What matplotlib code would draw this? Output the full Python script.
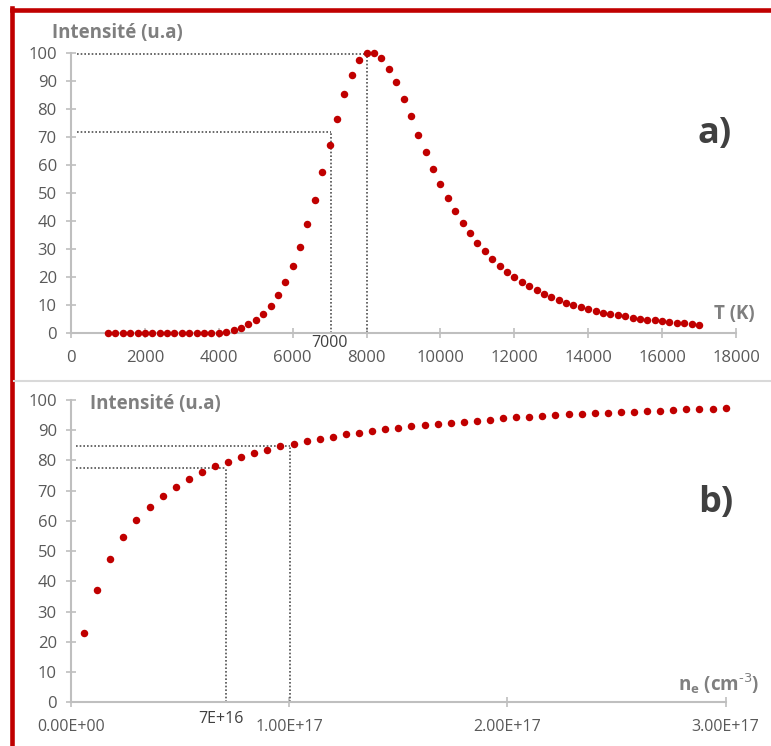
import numpy as np
import matplotlib.pyplot as plt
from matplotlib.lines import Line2D
from matplotlib.ticker import FuncFormatter
import matplotlib.transforms as mtransforms

plt.rcParams['font.family'] = ['Open Sans', 'DejaVu Sans']

# a) intensity vs temperature
temp = np.arange(1000, 17001, 200)
inten_T = [0, 0, 0, 0, 0, 0, 0, 0, 0, 0, 0, 0, 0, 0, 0,
           0.2, 0.5, 1.1, 1.8, 3.2, 4.8, 6.9, 9.9, 13.7, 18.4, 24.1,
           30.9, 39.0, 47.6, 57.4, 67.0, 76.5, 85.2, 92.2, 97.3, 99.8, 100.0,
           98.1, 94.3, 89.4, 83.5, 77.3, 70.8, 64.5, 58.7, 53.2, 48.1,
           43.5, 39.4, 35.6, 32.2, 29.2, 26.6, 24.1, 21.8, 20.0, 18.3,
           16.9, 15.4, 14.0, 12.9, 11.9, 10.8, 10.0, 9.3, 8.6, 7.8,
           7.2, 6.8, 6.5, 6.1, 5.5, 5.1, 4.9, 4.6, 4.4, 4.1,
           3.8, 3.6, 3.3, 3.1]

# b) intensity vs electron density
ne = 6e15 * np.arange(1, 51)
inten_ne = [22.9, 37.3, 47.3, 54.6, 60.2, 64.7, 68.2, 71.3, 73.8, 76.1,
            78.1, 79.6, 81.0, 82.4, 83.6, 84.7, 85.6, 86.4, 87.1, 87.9,
            88.6, 89.2, 89.9, 90.4, 90.9, 91.3, 91.6, 92.1, 92.4, 92.8,
            93.2, 93.5, 93.9, 94.3, 94.5, 94.7, 94.9, 95.3, 95.5, 95.7,
            95.8, 95.9, 96.1, 96.4, 96.5, 96.6, 96.9, 97.0, 97.1, 97.3]

# guide lines (x, y)
guides_T = [(8020, 99.5), (7050, 71.9)]
guides_ne = [(1.005e17, 84.7), (7.12e16, 77.4)]

red = '#C00000'
tick_col = '#595959'
label_col = '#7F7F7F'
spine_col = '#BFBFBF'
guide_col = '#505050'

fig = plt.figure(figsize=(7.71, 7.46), dpi=100)
ax1 = fig.add_axes([0.0921, 0.5532, 0.8625, 0.3761])
ax2 = fig.add_axes([0.0921, 0.0586, 0.8491, 0.4052])


def style(ax):
    for s in ['top', 'right']:
        ax.spines[s].set_visible(False)
    for s in ['left', 'bottom']:
        ax.spines[s].set_color(spine_col)
        ax.spines[s].set_linewidth(1.5)
    ax.tick_params(direction='inout', length=7.5, width=1.2, color=spine_col,
                   labelcolor=tick_col, labelsize=12)
    ax.tick_params(axis='y', pad=6.5)
    ax.tick_params(axis='x', pad=8)
    ax.set_ylim(0, 100)
    ax.set_yticks(range(0, 101, 10))


def guide(ax, x0, gx, gy):
    ax.plot([x0, gx], [gy, gy], color=guide_col, lw=1.2, dashes=(1, 1.2), zorder=2)
    ax.plot([gx, gx], [0, gy], color=guide_col, lw=1.2, dashes=(1, 1.2), zorder=2)


style(ax1)
ax1.set_xlim(0, 18000)
ax1.set_xticks(range(0, 18001, 2000))
ax1.plot(temp, inten_T, 'o', color=red, ms=5.4, mew=0, clip_on=False, zorder=3)
for gx, gy in guides_T:
    guide(ax1, 150, gx, gy)
tr1 = mtransforms.blended_transform_factory(ax1.transData, ax1.transAxes)
ax1.text(7000, -0.036, '7000', transform=tr1, ha='center', va='center',
         fontsize=11.5, color='#404040')

style(ax2)
ax2.set_xlim(0, 3e17)
ax2.set_xticks([0, 1e17, 2e17, 3e17])
ax2.xaxis.set_major_formatter(FuncFormatter(
    lambda v, p: '{:.2E}'.format(v) if v else '0.00E+00'))
ax2.tick_params(axis='x', labelsize=11.5)
ax2.plot(ne, inten_ne, 'o', color=red, ms=5.4, mew=0, clip_on=False, zorder=3)
for gx, gy in guides_ne:
    guide(ax2, 0.025e17, gx, gy)
tr2 = mtransforms.blended_transform_factory(ax2.transData, ax2.transAxes)
ax2.text(6.86e16, -0.054, '7E+16', transform=tr2, ha='center', va='center',
         fontsize=11.5, color='#404040')

# titles and panel letters
fig.text(0.0674, 0.9558, 'Intensité (u.a)', ha='left', va='center',
         fontsize=13.5, fontweight='bold', color=label_col)
fig.text(0.1167, 0.4584, 'Intensité (u.a)', ha='left', va='center',
         fontsize=13.5, fontweight='bold', color=label_col)
fig.text(0.926, 0.5791, 'T (K)', ha='left', va='center',
         fontsize=13.5, fontweight='bold', color=label_col)
fig.text(0.879, 0.0831, r'n$_\mathregular{e}$ (cm$^{\text{-3}}$)', ha='left',
         va='center', fontsize=13.5, fontweight='bold', color=label_col)
fig.text(0.905, 0.8204, 'a)', ha='left', va='center', fontsize=26,
         fontweight='bold', color='#404040')
fig.text(0.906, 0.3257, 'b)', ha='left', va='center', fontsize=26,
         fontweight='bold', color='#404040')

# frame lines
fig.add_artist(Line2D([11.5 / 771, 11.5 / 771], [0, 1 - 8 / 746],
                      color=red, lw=3.3, solid_capstyle='projecting'))
fig.add_artist(Line2D([11.5 / 771, 1], [1 - 9.5 / 746, 1 - 9.5 / 746],
                      color=red, lw=3.3, solid_capstyle='projecting'))
fig.add_artist(Line2D([14 / 771, 1], [1 - 381 / 746, 1 - 381 / 746],
                      color='#D9D9D9', lw=1.5))

fig.savefig('out.png', dpi=100)
